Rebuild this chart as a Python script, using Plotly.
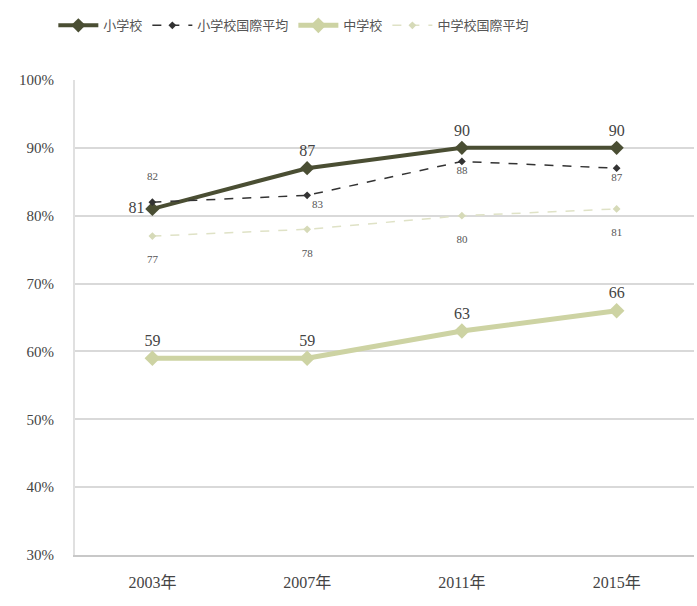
import plotly.graph_objects as go

years = ["2003年", "2007年", "2011年", "2015年"]
elem = [81, 87, 90, 90]
elem_intl = [82, 83, 88, 87]
junior = [59, 59, 63, 66]
junior_intl = [77, 78, 80, 81]
y_ticks = [30, 40, 50, 60, 70, 80, 90, 100]
y_labels = [f"{v}%" for v in y_ticks]

num_font = "Liberation Serif, Noto Sans CJK JP"
dark = "#4a4e33"
light = "#cdd3a3"

fig = go.Figure()

fig.add_trace(go.Scatter(
    x=years, y=elem, name="小学校", mode="lines+markers+text",
    line=dict(color=dark, width=4),
    marker=dict(symbol="diamond", size=11, color=dark),
    text=[str(v) for v in elem],
    textposition=["middle left", "top center", "top center", "top center"],
    textfont=dict(family=num_font, size=16, color="#444"),
))
fig.add_trace(go.Scatter(
    x=years, y=elem_intl, name="小学校国際平均", mode="lines+markers+text",
    line=dict(color="#333333", width=1.5, dash="dash"),
    marker=dict(symbol="diamond", size=6, color="#333333"),
    text=[str(elem_intl[0]) + "<br> ", str(elem_intl[1]), str(elem_intl[2]), str(elem_intl[3])],
    textposition=["top center", "bottom right", "bottom center", "bottom center"],
    textfont=dict(family=num_font, size=11, color="#555"),
))
fig.add_trace(go.Scatter(
    x=years, y=junior, name="中学校", mode="lines+markers+text",
    line=dict(color=light, width=5),
    marker=dict(symbol="diamond", size=12, color=light),
    text=[str(v) for v in junior],
    textposition="top center",
    textfont=dict(family=num_font, size=16, color="#444"),
))
fig.add_trace(go.Scatter(
    x=years, y=junior_intl, name="中学校国際平均", mode="lines+markers+text",
    line=dict(color="#dfe2c6", width=1.5, dash="dash"),
    marker=dict(symbol="diamond", size=6, color="#d6dab8"),
    text=["<br>" + str(v) for v in junior_intl],
    textposition="bottom center",
    textfont=dict(family=num_font, size=11, color="#555"),
))

fig.update_layout(
    width=697, height=606,
    margin=dict(l=75, r=3, t=80, b=51),
    paper_bgcolor="white", plot_bgcolor="white",
    font=dict(family=num_font, size=14, color="#444"),
    showlegend=True,
    legend=dict(orientation="h", x=-0.035, xanchor="left", y=1.115, yanchor="middle",
                font=dict(family="Noto Sans CJK JP", size=13, color="#555"),
                itemwidth=40, tracegroupgap=0),
    xaxis=dict(showgrid=False, showline=True, linecolor="#c8c8c8", linewidth=2,
               ticks="", ticklabelstandoff=12,
               tickfont=dict(family=num_font, size=16, color="#444"),
               range=[-0.5, 3.5]),
    yaxis=dict(range=[30, 100], tickvals=y_ticks, ticktext=y_labels,
               showgrid=True, gridcolor="#d9d9d9", gridwidth=1.5,
               showline=True, linecolor="#e0e0e0", linewidth=2,
               zeroline=False, ticks="", ticklen=0, ticklabelstandoff=16,
               tickfont=dict(family=num_font, size=15, color="#444")),
)

fig.write_html("out.html")
